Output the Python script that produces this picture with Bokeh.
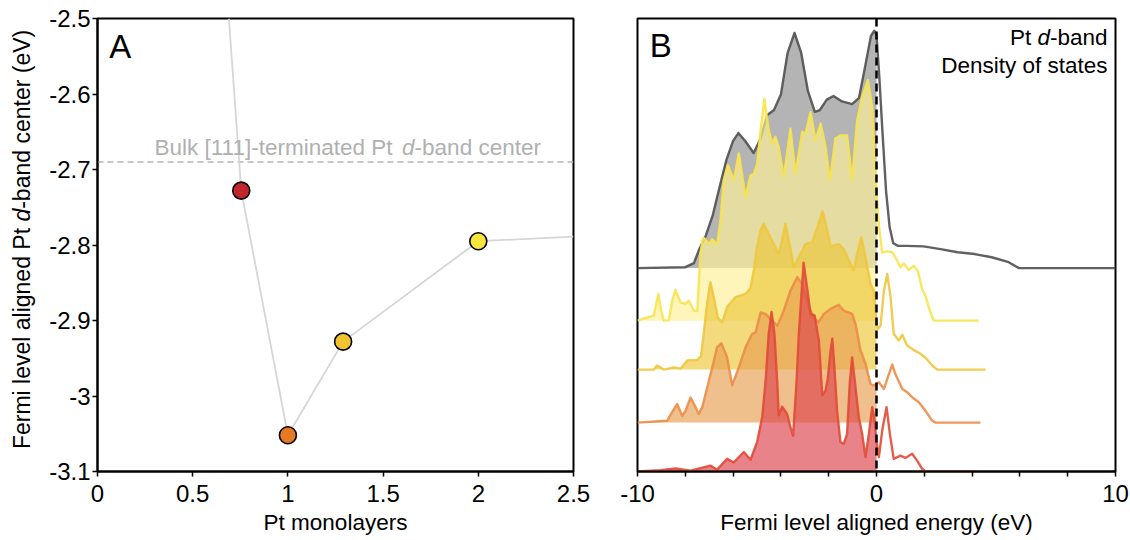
import math
from bokeh.plotting import figure
from bokeh.layouts import row
from bokeh.models import Label, FixedTicker, Span
from bokeh.embed import file_html
from bokeh.resources import INLINE

FONT = "Liberation Sans"

# ---------------- Panel A data ----------------
monolayers = [0.755, 1.0, 1.29, 2.0]
dband_center = [-2.728, -3.052, -2.928, -2.795]
point_colors = ["#c0272d", "#e67a22", "#f0c330", "#f7e43c"]
trend_x = [0.69, 0.755, 1.0, 1.29, 2.0, 2.5]
trend_y = [-2.5, -2.728, -3.052, -2.928, -2.795, -2.789]
bulk_center = -2.69
xa_ticks = [0, 0.5, 1, 1.5, 2, 2.5]
xa_labels = ["0", "0.5", "1", "1.5", "2", "2.5"]
ya_ticks = [-3.1, -3.0, -2.9, -2.8, -2.7, -2.6, -2.5]
ya_labels = ["-3.1", "-3", "-2.9", "-2.8", "-2.7", "-2.6", "-2.5"]

# ---------------- Panel B data (DOS, arbitrary units) ----------------
bulk_E = [-10, -8.0, -7.64, -7.42, -7.14, -6.85, -6.57, -6.28, -6.0, -5.78, -5.5, -5.14, -4.86, -4.57,
          -4.29, -4.0, -3.72, -3.43, -3.15, -2.87, -2.58, -2.37, -2.08, -1.8, -1.44, -1.02, -0.73, -0.45,
          -0.23, -0.09, 0.0, 0.12, 0.25, 0.4, 0.55, 0.7, 0.9, 1.26, 1.97, 2.68, 3.39, 4.11, 4.82, 5.53,
          5.96, 10]
bulk_D = [0, 0.2, 1.1, 4.1, 7.2, 11.7, 17.8, 23.9, 28.1, 29.8, 28.1, 25.4, 28.5, 33.8,
          34.9, 38.3, 47.5, 51.9, 47.5, 39.1, 34.5, 34.9, 37.2, 38.0, 36.8, 36.2, 37.6, 45.2,
          51.3, 52.4, 51.5, 42, 30, 17, 9, 5.5, 4.9, 4.9, 4.8, 4.2, 3.5, 3.1, 2.4, 1.3,
          0, 0]

ml2_E = [-10, -9.59, -9.32, -9.13, -9.01, -8.90, -8.69, -8.55, -8.41, -8.20, -7.99, -7.85, -7.64, -7.50,
         -7.44, -7.36, -7.28, -7.23, -7.0, -6.88, -6.67, -6.53, -6.39, -6.22, -5.97, -5.76, -5.48, -5.27,
         -5.13, -4.99, -4.85, -4.69, -4.51, -4.36, -4.23, -4.09, -3.88, -3.60, -3.39, -3.11, -2.97, -2.76,
         -2.55, -2.34, -2.13, -1.95, -1.72, -1.51, -1.23, -1.02, -0.81, -0.60, -0.36, -0.18, -0.07, 0.0,
         0.10, 0.24, 0.45, 0.66, 0.79, 1.0, 1.14, 1.35, 1.56, 1.73, 1.91, 2.05, 2.19, 2.37, 2.43, 4.28]
ml2_D = [0, 0.7, 1.1, 5.9, 2.2, 0, 0.1, 4.4, 6.8, 4.0, 3.7, 4.4, 2.2, 2.1,
         8.0, 15.0, 17.7, 18.3, 16.9, 18.0, 16.9, 22, 31.0, 34.3, 31.0, 36.9, 27.3, 32.1,
         32.4, 34.7, 42.0, 49.0, 42.0, 39.1, 40.6, 38.3, 31.7, 42.4, 32.4, 41.7, 41.3, 46.0,
         39.8, 43.5, 38.3, 31.0, 40.2, 40.9, 40.9, 31.0, 44.2, 49.4, 53.1, 47.2, 34.7, 28.5,
         21.0, 15.0, 15.3, 15.1, 14.0, 11.8, 12.6, 11.2, 12.1, 11.0, 7.0, 5.5, 2.9, 0.2, 0, 0]

ml129_E = [-10, -9.32, -9.18, -8.9, -8.48, -8.2, -7.92, -7.50, -7.34, -7.23, -7.09, -6.95, -6.81, -6.64,
           -6.46, -6.25, -5.90, -5.48, -5.27, -5.13, -5.0, -4.85, -4.72, -4.44, -4.09, -3.95, -3.81, -3.60,
           -3.46, -3.18, -2.97, -2.69, -2.48, -2.25, -2.06, -1.92, -1.79, -1.58, -1.37, -1.09, -0.95, -0.81,
           -0.64, -0.46, -0.25, -0.11, 0.0, 0.06, 0.17, 0.31, 0.45, 0.59, 0.72, 0.93, 1.08, 1.28, 1.56,
           1.81, 2.05, 2.33, 2.54, 4.56]
ml129_D = [0, 0, 0.9, 0, 0.5, 0.2, 2.0, 2.1, 3.1, 7.9, 14.5, 19.3, 16.0, 11.5,
           10.4, 13.8, 16.0, 16.7, 18.0, 22.0, 27.0, 30.7, 32.2, 29.2, 25.5, 28.5, 32.2, 26.6,
           22.6, 25.5, 27.7, 28.1, 31.4, 34.9, 30.7, 27.0, 27.4, 27.7, 26.6, 23.3, 21.9, 25.5,
           29.2, 24.8, 18.9, 17.4, 10.0, 9.0, 9.7, 17.4, 21.1, 16.0, 7.9, 6.4, 7.7, 5.3, 4.3,
           3.6, 2.6, 0.9, 0, 0]

ml1_E = [-10, -8.76, -8.55, -8.34, -8.13, -7.99, -7.78, -7.57, -7.44, -7.29, -7.08, -6.87, -6.67, -6.49,
         -6.25, -6.04, -5.76, -5.48, -5.20, -5.06, -4.85, -4.64, -4.44, -4.15, -3.88, -3.60, -3.32, -3.11,
         -2.85, -2.64, -2.43, -2.20, -1.92, -1.58, -1.37, -1.02, -0.88, -0.67, -0.46, -0.25, -0.11, 0.0,
         0.10, 0.31, 0.52, 0.66, 0.79, 1.08, 1.28, 1.49, 1.77, 2.05, 2.33, 2.47, 4.35]
ml1_D = [0, 0.4, 2.3, 4.1, 1.5, 2.6, 5.5, 3.4, 1.9, 3.4, 7.8, 12.2, 16.6, 17.5,
         14.4, 8.2, 12.2, 16.6, 19.6, 19.9, 24.3, 24.0, 22.9, 21.4, 24.7, 29.1, 32.1, 30.6,
         25.8, 23.4, 22.1, 24.0, 25.1, 26.0, 24.7, 24.0, 21.8, 15.9, 13.0, 8.5, 8.2, 8.6,
         8.9, 7.4, 10.7, 12.8, 10.7, 7.4, 6.7, 5.6, 4.5, 2.6, 0.4, 0, 0]

ml075_E = [-10, -9.04, -8.41, -7.78, -6.95, -6.67, -6.25, -5.97, -5.55, -5.27, -4.99, -4.78, -4.64, -4.51,
           -4.39, -4.27, -4.15, -4.09, -3.95, -3.74, -3.60, -3.49, -3.35, -3.25, -3.05, -2.89, -2.76, -2.59,
           -2.41, -2.27, -2.13, -2.04, -1.92, -1.85, -1.76, -1.65, -1.51, -1.37, -1.23, -1.12, -1.02, -0.88,
           -0.74, -0.60, -0.46, -0.32, -0.18, -0.08, 0.0, 0.10, 0.24, 0.42, 0.56, 0.72, 1.0, 1.21, 1.49,
           1.70, 1.91, 2.05, 4.0]
ml075_D = [0, 0.3, 0.7, 0.2, 1.3, 0.4, 2.8, 2.0, 4.3, 2.6, 6.6, 12.1, 20.0, 30.4,
           35.2, 30.4, 19.4, 12.4, 14.3, 12.7, 9.8, 7.9, 19.4, 30.4, 46.1, 40.0, 34.8, 34.4,
           28.9, 16.8, 17.9, 20.5, 26.7, 29.3, 23.0, 13.5, 6.5, 6.1, 8.3, 19.4, 25.2, 18.6,
           12.0, 8.3, 3.2, 8.3, 14.2, 11.3, 6.5, 3.2, 9.1, 14.2, 8.3, 2.8, 3.5, 3.0, 3.9,
           2.4, 0.6, 0, 0]

curve_E = [bulk_E, ml2_E, ml129_E, ml1_E, ml075_E]
curve_D = [bulk_D, ml2_D, ml129_D, ml1_D, ml075_D]
curve_offsets = [44.9, 33.3, 22.5, 10.8, 0.0]
curve_line_colors = ["#505050", "#f8e44e", "#f0c63e", "#ec8c46", "#e24a36"]
curve_fill_colors = ["#8e8e8e", "#fcf096", "#edc73c", "#e8a052", "#dc464e"]
xb_ticks = [-10, -8, -6, -4, -2, 0, 2, 4, 6, 8, 10]
xb_labels = ["-10", "", "", "", "", "0", "", "", "", "", "10"]

H = 540

# ---------------- geometry helpers (screen px -> data) ----------------
def ax(px):
    return (px - 97) * 2.5 / 476.0

def ay(py):
    return -2.5 - (py - 18) * 0.6 / 453.0

def bx(px):
    return (px - 876) * 20.0 / 478.0

def by(py):
    return (471 - py) / 4.53


def style_common(p):
    p.outline_line_color = "black"
    p.outline_line_width = 2
    p.outline_line_alpha = 1.0
    p.xgrid.visible = False
    p.ygrid.visible = False
    p.background_fill_color = "white"
    p.border_fill_color = "white"
    for axis in p.axis:
        axis.axis_line_color = "black"
        axis.axis_line_width = 2
        axis.major_tick_in = 0
        axis.major_tick_out = 5
        axis.major_tick_line_width = 1.5
        axis.major_tick_line_color = "black"
        axis.minor_tick_line_color = None
        axis.major_label_text_font = FONT
        axis.major_label_text_font_size = "24px"
        axis.major_label_text_color = "black"
        axis.axis_label_text_font = FONT
        axis.axis_label_text_font_size = "22.5px"
        axis.axis_label_text_font_style = "normal"
        axis.axis_label_text_color = "black"


def lab(p, x, y, text, size="22.5px", align="left", style="normal", color="black", angle=0.0):
    p.add_layout(Label(x=x, y=y, text=text, text_font=FONT, text_font_size=size,
                       text_align=align, text_baseline="middle", text_font_style=style,
                       text_color=color, angle=angle))

# ---------------- left strip holding the rotated y-axis title of panel A ----------------
# (its frame is aligned with panel A's frame by the row layout, so it shares A's y range)
pL = figure(width=40, height=H, x_range=(0, 40), y_range=(-3.1, -2.5), output_backend="svg",
            toolbar_location=None, x_axis_type=None, y_axis_type=None,
            min_border=0, min_border_left=0, min_border_right=0, min_border_top=18,
            min_border_bottom=H - 471)
pL.outline_line_color = None
pL.xgrid.visible = False
pL.ygrid.visible = False
pL.background_fill_color = "white"
pL.border_fill_color = "white"
# pieces are centred on their own midpoints (rotated text, reading bottom to top)
lab(pL, 21.5, ay(338.0), "Fermi level aligned Pt", size="23px", align="center", angle=math.pi / 2)
lab(pL, 21.5, ay(214.7), "d", size="23px", align="center", angle=math.pi / 2, style="italic")
lab(pL, 21.5, ay(118.8), "-band center (eV)", size="23px", align="center", angle=math.pi / 2)

# ---------------- Panel A ----------------
pA = figure(width=565, height=H, x_range=(0, 2.5), y_range=(-3.1, -2.5),
            output_backend="svg", toolbar_location=None,
            min_border_left=57, min_border_right=32, min_border_top=18, min_border_bottom=H - 471)
style_common(pA)
pA.xaxis.ticker = FixedTicker(ticks=xa_ticks)
pA.xaxis.major_label_overrides = dict(zip(xa_ticks, xa_labels))
pA.yaxis.ticker = FixedTicker(ticks=ya_ticks)
pA.yaxis.major_label_overrides = dict(zip(ya_ticks, ya_labels))
pA.xaxis.major_label_standoff = 8
pA.yaxis.major_label_standoff = 2
pA.xaxis.axis_label = "Pt monolayers"
pA.xaxis.axis_label_standoff = 5

pA.add_layout(Span(location=bulk_center, dimension="width", line_color="#b4b4b4",
                   line_dash="6 4", line_width=1.5, level="underlay"))
pA.line(trend_x, trend_y, line_color="#d6d6d6", line_width=1.8)
pA.scatter(monolayers, dband_center, size=17, fill_color=point_colors,
           line_color="black", line_width=1.6)

lab(pA, ax(108.7), ay(46.3), "A", size="33px")
lab(pA, ax(154), ay(146.5), "Bulk [111]-terminated Pt", color="#b0b0b0")
lab(pA, ax(401.6), ay(146.5), "d", color="#b0b0b0", style="italic")
lab(pA, ax(414.1), ay(146.5), "-band center", color="#b0b0b0")

# ---------------- Panel B ----------------
pB = figure(width=525, height=H, x_range=(-10, 10), y_range=(0, 100),
            output_backend="svg", toolbar_location=None,
            min_border_left=32, min_border_right=15, min_border_top=18, min_border_bottom=H - 471)
style_common(pB)
pB.yaxis.visible = False
pB.xaxis.ticker = FixedTicker(ticks=xb_ticks)
pB.xaxis.major_label_overrides = dict(zip(xb_ticks, xb_labels))
pB.xaxis.major_label_standoff = 8
pB.xaxis.axis_label = "Fermi level aligned energy (eV)"
pB.xaxis.axis_label_standoff = 5

for E, D, off, lc, fc in zip(curve_E, curve_D, curve_offsets, curve_line_colors, curve_fill_colors):
    occ_E = [e for e in E if e <= 0]
    occ_D = [d for e, d in zip(E, D) if e <= 0]
    pB.varea(x=occ_E, y1=[off] * len(occ_E), y2=[off + d for d in occ_D],
             fill_color=fc, fill_alpha=0.667)
    pB.line(E, [off + d for d in D], line_color=lc, line_width=2.4, line_alpha=0.9,
            line_join="round")

pB.add_layout(Span(location=0, dimension="height", line_color="black",
                   line_dash="8 5", line_width=2.5))

lab(pB, bx(649.2), by(45.0), "B", size="33px")
lab(pB, bx(1107), by(36.9), "-band", align="right")
lab(pB, bx(1049.5), by(36.9), "d", align="right", style="italic")
lab(pB, bx(1030.7), by(36.9), "Pt", align="right")
lab(pB, bx(1107), by(64.7), "Density of states", align="right")

layout = row(pL, pA, pB)
open("out.html", "w").write(file_html(layout, INLINE))
